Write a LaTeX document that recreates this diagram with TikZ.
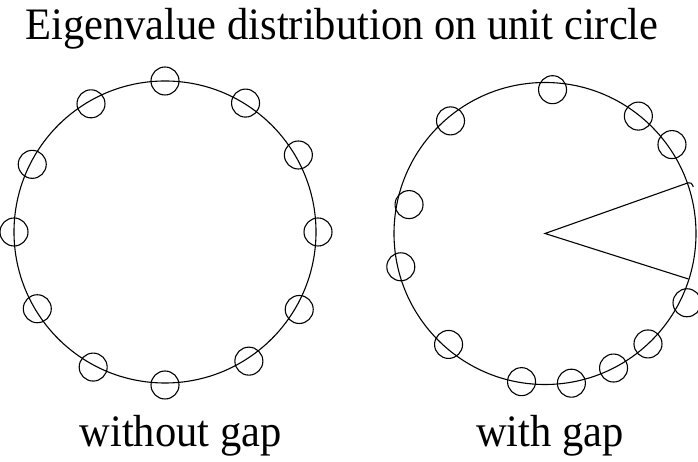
\documentclass[tikz,border=0pt]{standalone}
\usepackage{fontspec}
\setmainfont{Liberation Serif}
\usetikzlibrary{calc}
\begin{document}
\begin{tikzpicture}[x=1pt, y=1pt, line width=1.1pt,
    label text/.style={font=\fontsize{45}{50}\selectfont, xscale=0.945, anchor=base, inner sep=0pt}]
    \useasboundingbox (0,0) rectangle (698,462);

    \coordinate (C1) at (165, 230);     % centro, sin hueco
    \coordinate (C2) at (545, 228.5);   % centro, con hueco

    % Circunferencias unidad
    \draw (C1) circle (151pt);
    \draw (C2) circle (151pt);

    % Autovalores sin hueco (angulo/radio)
    \foreach \a/\r in {0/153, 30/154, 58/152, 90/151, 120/148, 153/149,
                       180/151, 211/149, 242/153, 270/153, 303/154, 330/155}
        \draw[shift={(C1)}] (\a:\r) circle (14pt);

    % Autovalores con hueco
    \foreach \a/\r in {35/155, 51.5/150, 87/144, 130/147, 168/139, 193/148,
                       229/147, 261/150, 280/152, 297/151, 313/151, 334/158}
        \draw[shift={(C2)}] (\a:\r) circle (14pt);

    % Hueco
    \coordinate (W1) at ($(C2)+(19.5:152)$);
    \coordinate (W2) at ($(C2)+(-17.6:150.4)$);
    \draw (W1) -- (C2) -- (W2);
    \draw (W1) .. controls ([shift={(3,0)}]W1) .. ([shift={(5,-4)}]W1);

    % Textos
    \node[label text] (title) at (342, 422.7) {Eigenvalue distribution on unit circle};
    \node[label text] (nogap) at (180.5, 15.3) {without gap};
    \node[label text] (gap)   at (550, 15.3) {with gap};
\end{tikzpicture}
\end{document}
